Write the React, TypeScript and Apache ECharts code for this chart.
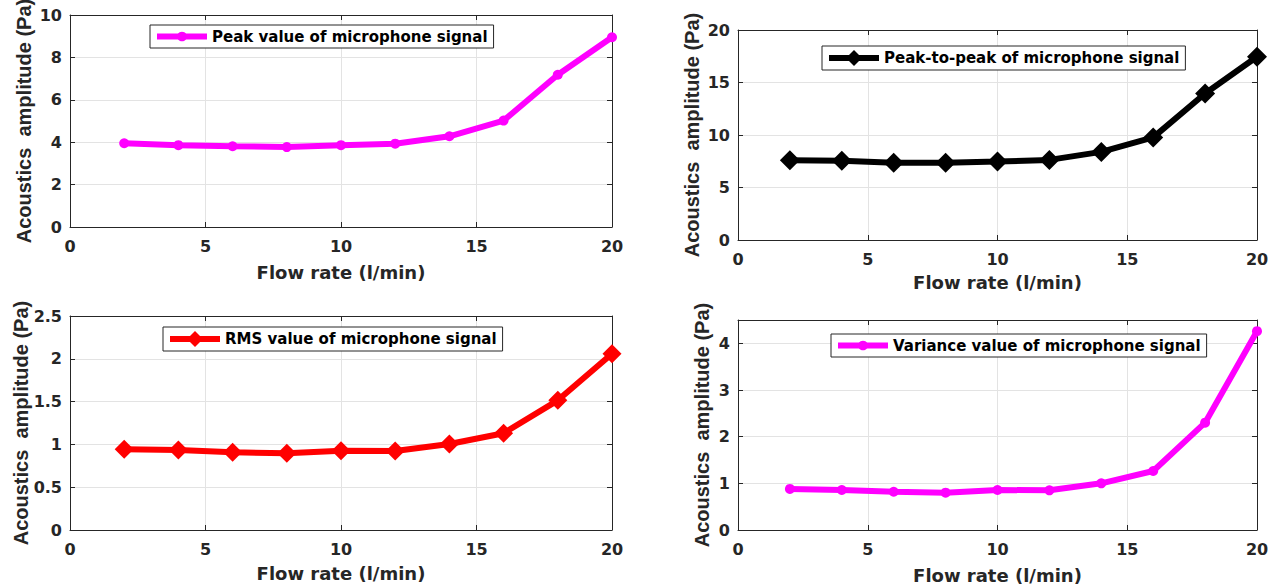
import React, { useEffect, useRef } from "react";
import * as echarts from "echarts";

// ---- data ----
const flowRate = [2, 4, 6, 8, 10, 12, 14, 16, 18, 20];
const peakValue = [3.95, 3.86, 3.81, 3.77, 3.86, 3.93, 4.28, 5.02, 7.18, 8.95];
const peakToPeak = [7.6, 7.54, 7.36, 7.36, 7.47, 7.63, 8.39, 9.77, 13.95, 17.45];
const rmsValue = [0.943, 0.935, 0.908, 0.896, 0.927, 0.923, 1.005, 1.13, 1.515, 2.06];
const varianceValue = [0.88, 0.857, 0.82, 0.8, 0.857, 0.85, 1.0, 1.265, 2.3, 4.26];

const seriesNames = [
  "Peak value of microphone signal",
  "Peak-to-peak of microphone signal",
  "RMS value of microphone signal",
  "Variance value of microphone signal",
];
const xAxisTitle = "Flow rate (l/min)";
const yAxisTitle = "Acoustics  amplitude (Pa)";

// ---- layout / style ----
const TXT = "#262626";
const GRIDC = "#e3e3e3";
const FONT = "'DejaVu Sans', 'Liberation Sans', Arial, sans-serif";
const YFONT = "'Liberation Sans', Arial, sans-serif";

const panels = [
  {
    values: peakValue, color: "#ff00ff", symbol: "circle", symbolSize: 10,
    yMax: 10, yInterval: 2,
    grid: { left: 70, top: 15, width: 542, height: 212 },
    legend: { left: 150, top: 25 }, yGap: 36, xGap: 36,
  },
  {
    values: peakToPeak, color: "#000000", symbol: "diamond", symbolSize: 20,
    yMax: 20, yInterval: 5,
    grid: { left: 738, top: 30, width: 519, height: 210 },
    legend: { left: 822, top: 46 }, yGap: 36, xGap: 33,
  },
  {
    values: rmsValue, color: "#ff0000", symbol: "diamond", symbolSize: 19,
    yMax: 2.5, yInterval: 0.5,
    grid: { left: 70, top: 316, width: 542, height: 214 },
    legend: { left: 163, top: 327 }, yGap: 39, xGap: 34,
  },
  {
    values: varianceValue, color: "#ff00ff", symbol: "circle", symbolSize: 10,
    yMax: 4.5, yInterval: 1,
    grid: { left: 738, top: 320, width: 519, height: 210 },
    legend: { left: 831, top: 334 }, yGap: 26, xGap: 36,
  },
];

export default function App() {
  const ref = useRef<HTMLDivElement>(null);
  useEffect(() => {
    if (!ref.current) return;
    const chart = echarts.init(ref.current, undefined, { renderer: "svg" });

    const grid: any[] = [];
    const xAxis: any[] = [];
    const yAxis: any[] = [];
    const series: any[] = [];
    const legend: any[] = [];

    panels.forEach((p, i) => {
      grid.push({ ...p.grid, containLabel: false, outerBoundsMode: "none", show: false });
      const tickStyle = { show: true, inside: true, length: 5, lineStyle: { color: TXT, width: 1 } };
      const axisLine = { show: true, onZero: false, lineStyle: { color: TXT, width: 1 } };
      xAxis.push({
        type: "value", gridIndex: i, position: "bottom", min: 0, max: 20, interval: 5,
        axisLine, axisTick: tickStyle,
        axisLabel: { color: TXT, fontFamily: FONT, fontWeight: "bold", fontSize: 16, margin: 11 },
        splitLine: { show: true, lineStyle: { color: GRIDC, width: 1 } },
        name: xAxisTitle, nameLocation: "middle", nameGap: p.xGap, nameMoveOverlap: false,
        nameTextStyle: { color: TXT, fontFamily: FONT, fontWeight: "bold", fontSize: 18 },
      });
      xAxis.push({
        type: "value", gridIndex: i, position: "top", min: 0, max: 20, interval: 5,
        axisLine, axisTick: tickStyle, axisLabel: { show: false }, splitLine: { show: false },
      });
      yAxis.push({
        type: "value", gridIndex: i, position: "left", min: 0, max: p.yMax, interval: p.yInterval,
        axisLine, axisTick: tickStyle,
        axisLabel: {
          color: TXT, fontFamily: FONT, fontWeight: "bold", fontSize: 16, margin: 8,
          formatter: (v: number) => {
            const r = v / p.yInterval;
            return Math.abs(r - Math.round(r)) < 1e-6 ? String(v) : "";
          },
        },
        splitLine: { show: true, lineStyle: { color: GRIDC, width: 1 } },
        name: yAxisTitle, nameLocation: "middle", nameGap: p.yGap, nameMoveOverlap: false,
        nameTextStyle: { color: TXT, fontFamily: YFONT, fontWeight: "bold", fontSize: 20 },
      });
      yAxis.push({
        type: "value", gridIndex: i, position: "right", min: 0, max: p.yMax, interval: p.yInterval,
        axisLine, axisTick: tickStyle, axisLabel: { show: false }, splitLine: { show: false },
      });

      series.push({
        type: "line", name: seriesNames[i], xAxisIndex: i * 2, yAxisIndex: i * 2,
        data: flowRate.map((x, k) => [x, p.values[k]]),
        symbol: p.symbol, symbolSize: p.symbolSize, showSymbol: true, clip: false,
        lineStyle: { color: p.color, width: 6 },
        itemStyle: { color: p.color, borderWidth: 0 },
        z: 5,
      });

      legend.push({
        data: [{ name: seriesNames[i], lineStyle: { width: 6 } }],
        left: p.legend.left, top: p.legend.top,
        orient: "horizontal", itemWidth: 50, itemHeight: p.symbol === "diamond" ? 20 : 12,
        itemGap: 4, padding: [4, 6, 4, 4],
        borderColor: TXT, borderWidth: 1, backgroundColor: "#ffffff",
        selectedMode: false,
        lineStyle: { width: 6 },
        textStyle: { color: "#000", fontFamily: FONT, fontWeight: "bold", fontSize: 15 },
      });
    });

    chart.setOption({
      animation: false,
      backgroundColor: "#ffffff",
      grid, xAxis, yAxis, series, legend,
    });
    return () => chart.dispose();
  }, []);

  return (
    <div
      ref={ref}
      style={{ position: "absolute", left: 0, top: 0, width: 1277, height: 586, background: "#fff" }}
    />
  );
}
